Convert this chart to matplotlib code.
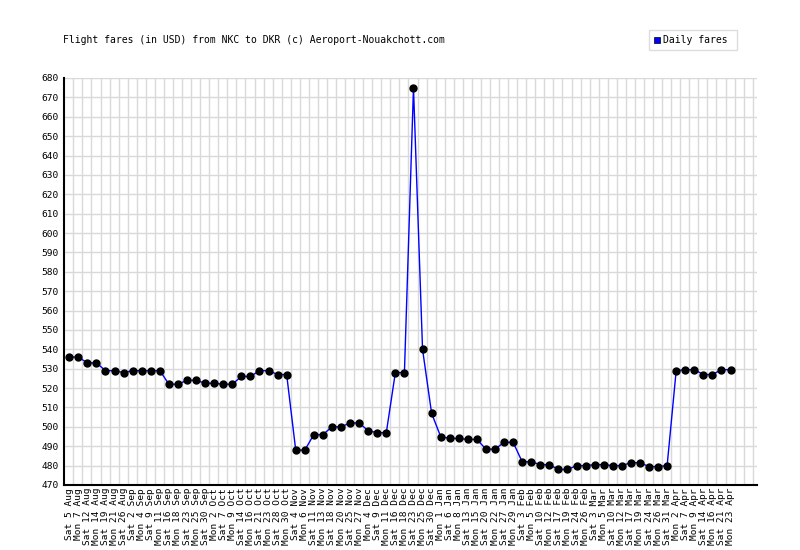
import matplotlib
matplotlib.use("Agg")
import matplotlib.pyplot as plt
from matplotlib.patches import Rectangle

dates = [
    "Sat 5 Aug", "Mon 7 Aug", "Sat 12 Aug", "Mon 14 Aug", "Sat 19 Aug", "Mon 21 Aug",
    "Sat 26 Aug", "Sat 2 Sep", "Mon 4 Sep", "Sat 9 Sep", "Mon 11 Sep", "Sat 16 Sep",
    "Mon 18 Sep", "Sat 23 Sep", "Mon 25 Sep", "Sat 30 Sep", "Mon 2 Oct", "Sat 7 Oct",
    "Mon 9 Oct", "Sat 14 Oct", "Mon 16 Oct", "Sat 21 Oct", "Mon 23 Oct", "Sat 28 Oct",
    "Mon 30 Oct", "Sat 4 Nov", "Mon 6 Nov", "Sat 11 Nov", "Mon 13 Nov", "Sat 18 Nov",
    "Mon 20 Nov", "Sat 25 Nov", "Mon 27 Nov", "Mon 4 Dec", "Sat 9 Dec", "Mon 11 Dec",
    "Sat 16 Dec", "Mon 18 Dec", "Sat 23 Dec", "Mon 25 Dec", "Sat 30 Dec", "Mon 1 Jan",
    "Sat 6 Jan", "Mon 8 Jan", "Sat 13 Jan", "Mon 15 Jan", "Sat 20 Jan", "Mon 22 Jan",
    "Sat 27 Jan", "Mon 29 Jan", "Sat 3 Feb", "Mon 5 Feb", "Sat 10 Feb", "Mon 12 Feb",
    "Sat 17 Feb", "Mon 19 Feb", "Sat 24 Feb", "Mon 26 Feb", "Sat 3 Mar", "Mon 5 Mar",
    "Sat 10 Mar", "Mon 12 Mar", "Sat 17 Mar", "Mon 19 Mar", "Sat 24 Mar", "Mon 26 Mar",
    "Sat 31 Mar", "Mon 2 Apr", "Sat 7 Apr", "Mon 9 Apr", "Sat 14 Apr", "Mon 16 Apr",
    "Sat 21 Apr", "Mon 23 Apr",
]

fares = [
    536, 536, 533, 533, 529, 529, 528, 529, 529, 529, 529, 522, 522, 524, 524,
    522.5, 522.5, 522, 522, 526, 526, 529, 529, 527, 527, 488, 488, 496, 496,
    500, 500, 502, 502, 498, 497, 497, 528, 528, 675, 540, 507, 495, 494, 494,
    493.5, 493.5, 488.5, 488.5, 492, 492, 482, 482, 480.5, 480.5, 478, 478,
    480, 480, 480.5, 480.5, 480, 480, 481.5, 481.5, 479.5, 479.5, 480, 529,
    529.5, 529.5, 527, 527, 529.5, 529.5,
]

y_ticks = list(range(470, 681, 10))

mono = "DejaVu Sans Mono"
fs = 6.8

fig = plt.figure(figsize=(8, 5.5), dpi=100)
ax = fig.add_axes([0.08, 0.1182, 0.866, 0.7400])

x = list(range(len(fares)))
ax.plot(x, fares, color="#0000ff", linewidth=1, marker="o",
        markersize=5, markerfacecolor="black", markeredgecolor="black", zorder=3)

ax.set_xlim(-0.58, len(fares) + 1.9)
ax.set_ylim(470, 680)

ax.set_yticks(y_ticks)
ax.set_yticklabels([str(v) for v in y_ticks], fontfamily=mono, fontsize=fs)
ax.set_xticks(x)
ax.set_xticklabels(dates, rotation=90, fontfamily=mono, fontsize=fs)
ax.set_xticks([i + 0.45 for i in range(len(fares) + 2)], minor=True)

ax.tick_params(axis="both", which="both", length=0)
ax.tick_params(axis="x", pad=2)
ax.tick_params(axis="y", pad=4)
ax.grid(False)
ax.yaxis.grid(True, color="#d9d9d9", linewidth=1)
ax.xaxis.grid(True, which="minor", color="#d9d9d9", linewidth=1)
ax.set_axisbelow(True)

for side in ["top", "right"]:
    ax.spines[side].set_visible(False)
for side in ["left", "bottom"]:
    ax.spines[side].set_color("black")
    ax.spines[side].set_linewidth(1.5)

fig.text(0.079, 0.927, "Flight fares (in USD) from NKC to DKR (c) Aeroport-Nouakchott.com",
         fontfamily=mono, fontsize=7, va="center", ha="left")

# legend box
fig.patches.append(Rectangle((0.811, 0.909), 0.11, 0.036, transform=fig.transFigure,
                             facecolor="white", edgecolor="#dddddd", linewidth=1))
fig.patches.append(Rectangle((0.817, 0.922), 0.008, 0.0116, transform=fig.transFigure,
                             facecolor="#0000ff", edgecolor="black", linewidth=0.5))
fig.text(0.829, 0.927, "Daily fares", fontfamily=mono, fontsize=7, va="center", ha="left")

fig.savefig("out.png", dpi=100)
